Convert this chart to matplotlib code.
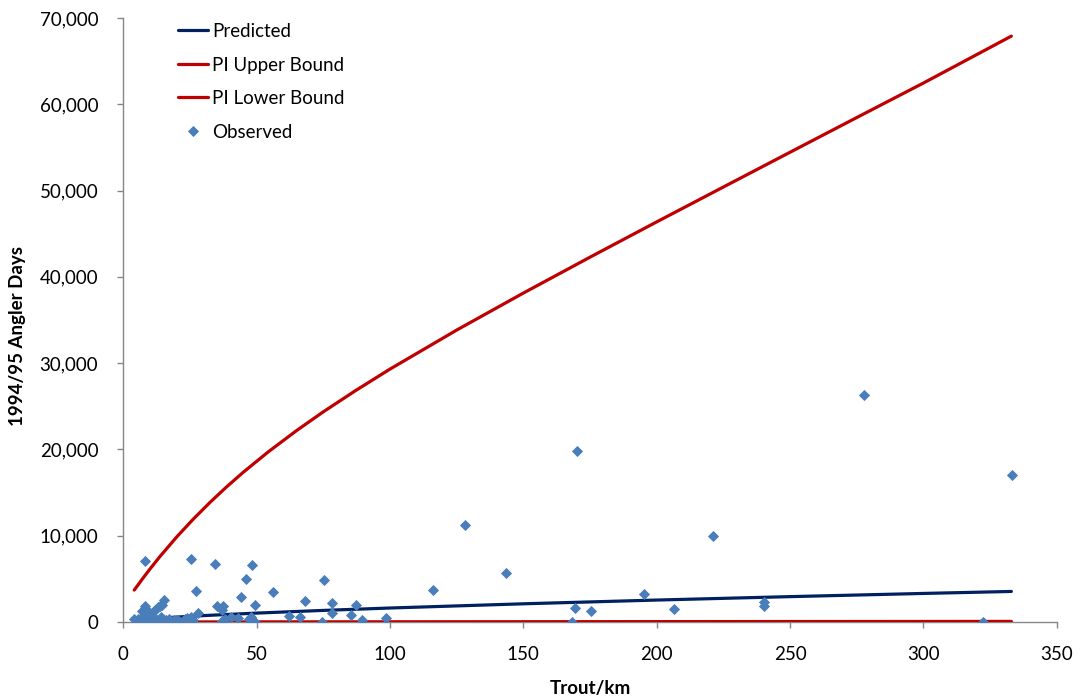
import matplotlib
matplotlib.use("Agg")
import matplotlib.pyplot as plt
from matplotlib.ticker import FuncFormatter

plt.rcParams['font.family'] = ['Lato', 'DejaVu Sans']

# ---- data ----
obs_x = [4.1, 5, 5.5, 6, 6.5, 7, 7, 7.5, 8, 8.3, 8.3, 8.5, 9, 9, 9.5, 10, 10, 10.5,
         11, 11, 12, 12, 12.5, 13, 13.6, 14, 14.5, 15.3, 15, 16, 17, 18, 19, 20, 21,
         22.4, 23, 24, 25.3, 25.3, 26, 27.3, 28, 34.3, 35.3, 37.4, 37, 37, 38, 40.5,
         43, 44.3, 46.1, 48.3, 47, 48, 48, 49.4, 49.5, 56.2, 62.2, 66.3, 68.1, 74.4,
         75.3, 78.1, 78.1, 85.3, 87.3, 89.4, 98.4, 116.3, 128, 143.4, 168.2, 169.3,
         170.3, 175.4, 195.4, 206.5, 221.3, 240.3, 240.3, 277.8, 322.5, 333.3]
obs_y = [300, 100, 400, 200, 50, 600, 1300, 300, 1900, 1600, 7060, 0, 800, 400, 100,
         1000, 300, 600, 1200, 0, 1400, 400, 200, 1700, 1800, 600, 2000, 2500, 300,
         200, 400, 100, 250, 200, 100, 120, 300, 500, 620, 7290, 200, 3620, 1000,
         6680, 1850, 1850, 1390, 120, 400, 620, 430, 2930, 4980, 6600, 300, 620, 0,
         1970, 0, 3440, 690, 620, 2470, 40, 4860, 2160, 1080, 810, 1970, 260, 520,
         3660, 11200, 5640, 40, 1660, 19830, 1310, 3240, 1470, 9950, 2350, 1850,
         26270, 0, 16980]

line_x = [4.1, 10, 20, 30, 50, 75, 100, 150, 200, 250, 300, 333]
pred_y = [203, 363, 570, 741, 1032, 1344, 1621, 2109, 2544, 2940, 3310, 3540]
lower_y = [2, 4, 7, 10, 15, 20, 25, 35, 45, 55, 60, 70]

upper_x = [4.1, 7.5, 10, 13.8, 20, 26.2, 32.5, 38.8, 45, 54.4, 65, 75, 87, 100,
           125, 150, 175, 200, 225, 250, 275, 300, 333]
upper_y = [3700, 5130, 6140, 7610, 9850, 11910, 13860, 15680, 17360, 19730, 22190,
           24360, 26800, 29310, 33830, 38120, 42280, 46370, 50410, 54440, 58460,
           62460, 67900]

x_ticks = [0, 50, 100, 150, 200, 250, 300, 350]
y_ticks = [0, 10000, 20000, 30000, 40000, 50000, 60000, 70000]

# ---- figure ----
W, H = 1080, 698
fig = plt.figure(figsize=(W / 100, H / 100), dpi=100)
ax = fig.add_axes([123.3 / W, 1 - 622 / H, (1056.7 - 123.3) / W, (622 - 18) / H])

navy = '#002060'
red = '#C00000'
blue = '#4A7EBB'
gray = '#868686'

ax.plot(line_x, pred_y, color=navy, lw=2.3, label='Predicted', zorder=3,
        solid_capstyle='round', solid_joinstyle='round')
ax.plot(upper_x, upper_y, color=red, lw=2.3, label='PI Upper Bound', zorder=3,
        solid_capstyle='round', solid_joinstyle='round')
ax.plot(line_x, lower_y, color=red, lw=2.3, label='PI Lower Bound', zorder=3,
        solid_capstyle='round')
ax.plot(obs_x, obs_y, linestyle='none', marker='D', ms=5.4, color=blue,
        markeredgewidth=0.6, markeredgecolor=blue, label='Observed', zorder=4)

ax.set_xlim(0, 350)
ax.set_ylim(0, 70000)
ax.set_xticks(x_ticks)
ax.set_yticks(y_ticks)
ax.yaxis.set_major_formatter(FuncFormatter(lambda v, p: f"{int(v):,}"))
ax.xaxis.set_major_formatter(FuncFormatter(lambda v, p: f"{int(v)}"))

for s in ['top', 'right']:
    ax.spines[s].set_visible(False)
for s in ['left', 'bottom']:
    ax.spines[s].set_color(gray)
    ax.spines[s].set_linewidth(1.0)

ax.tick_params(axis='both', direction='out', length=4, width=1.0, color=gray,
               labelsize=13.5, labelcolor='black')
ax.tick_params(axis='y', pad=14)
ax.tick_params(axis='x', pad=13)

fig.text(590 / W, 1 - 680 / H, 'Trout/km', ha='center', va='top',
         fontsize=13.5, fontweight='bold')
fig.text(18 / W, 1 - 336 / H, '1994/95 Angler Days', ha='center', va='center',
         rotation=90, fontsize=13.5, fontweight='bold')

leg = ax.legend(loc='upper left', bbox_to_anchor=(178 / W, 1 - 23 / H),
                bbox_transform=fig.transFigure, frameon=False, fontsize=13.5,
                handlelength=1.6, handletextpad=0.2, labelspacing=0.88,
                borderpad=0, borderaxespad=0, numpoints=1)

fig.savefig('out.png', dpi=100)
